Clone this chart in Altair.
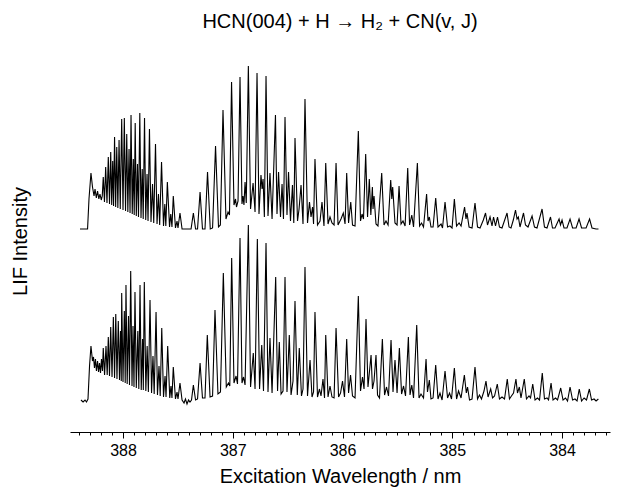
import altair as alt
import pandas as pd

# ---- upper trace (wavelength nm, LIF signal a.u.) ----
upper_head = [(388.392,0),(388.323,0),(388.310,30),(388.292,56),(388.278,42),(388.264,33),(388.255,40),(388.243,31),(388.232,38),(388.220,30),(388.210,35),(388.198,29),(388.189,33),(388.180,52),(388.169,27),(388.158,62),(388.146,26),(388.134,72),(388.123,25),(388.112,77),(388.103,24),(388.094,68),(388.086,23),(388.077,92),(388.067,22),(388.057,82),(388.047,21),(388.036,89),(388.025,20),(388.012,110),(388.000,19),(387.988,111),(387.977,18),(387.966,95),(387.956,17),(387.945,80),(387.936,16),(387.927,114),(387.916,15),(387.906,70),(387.898,14),(387.889,106),(387.879,13),(387.868,65),(387.859,12),(387.847,116),(387.836,11),(387.825,60),(387.816,10),(387.804,111),(387.793,9),(387.781,55),(387.772,8),(387.759,100),(387.745,7),(387.731,45),(387.720,6),(387.704,85),(387.690,5),(387.677,35),(387.666,4),(387.649,67),(387.631,3),(387.619,25),(387.610,3),(387.596,47),(387.576,2),(387.565,15),(387.554,2),(387.542,33),(387.522,1),(387.508,8),(387.499,1),(387.481,16),(387.462,0)]
upper_mid = [(387.399,0),(387.380,0),(387.359,16),(387.339,0),(387.321,0),(387.298,37),(387.276,0),(387.253,0),(387.230,57),(387.205,0),(387.184,1),(387.157,83),(387.130,2),(387.113,4),(387.089,119),(387.062,10),(387.043,17),(387.030,14),(387.011,147),(386.989,24),(386.975,30),(386.966,22),(386.952,28),(386.934,152),(386.916,25),(386.907,33),(386.898,24),(386.888,47),(386.877,26),(386.858,163),(386.838,20),(386.815,46),(386.797,17),(386.779,156),(386.761,15),(386.743,54),(386.733,40),(386.724,50),(386.712,12),(386.697,153),(386.679,13),(386.661,56),(386.642,10),(386.611,114),(386.597,15),(386.583,57),(386.565,12),(386.551,45),(386.538,10),(386.524,112),(386.506,14),(386.492,57),(386.474,8),(386.456,44),(386.444,6),(386.433,91),(386.410,8),(386.396,20),(386.378,44),(386.360,5),(386.342,130),(386.319,6),(386.301,27),(386.287,12),(386.273,22),(386.264,5),(386.251,70),(386.228,4),(386.205,8),(386.187,27),(386.169,3),(386.153,66),(386.132,5),(386.114,12),(386.096,6),(386.077,4),(386.059,66),(386.041,4),(386.014,10)]
upper_tail = [(385.993,16),(385.977,5),(385.962,56),(385.945,6),(385.925,27),(385.909,4),(385.886,3),(385.856,98),(385.836,8),(385.822,15),(385.809,10),(385.789,75),(385.772,12),(385.756,50),(385.742,14),(385.728,42),(385.722,20),(385.713,33),(385.695,5),(385.677,3),(385.643,56),(385.622,4),(385.604,8),(385.585,4),(385.561,49),(385.551,30),(385.543,42),(385.522,6),(385.503,4),(385.485,43),(385.467,5),(385.449,8),(385.430,3),(385.406,61),(385.389,4),(385.369,14),(385.353,2),(385.318,66),(385.298,3),(385.280,6),(385.262,2),(385.234,35),(385.221,8),(385.209,12),(385.194,2),(385.175,2),(385.151,31),(385.130,2),(385.102,5),(385.089,1),(385.066,27),(385.043,2),(385.021,3),(385.002,1),(384.981,30),(384.961,3),(384.938,6),(384.920,3),(384.888,22),(384.875,10),(384.866,16),(384.847,2),(384.820,1),(384.793,26),(384.770,2),(384.747,1),(384.717,9),(384.697,16),(384.679,4),(384.656,12),(384.638,3),(384.624,12),(384.606,3),(384.588,12),(384.570,2),(384.547,1),(384.501,16),(384.483,2),(384.465,1),(384.444,9),(384.424,19),(384.410,10),(384.398,12),(384.383,2),(384.351,16),(384.333,4),(384.310,2),(384.273,13),(384.251,2),(384.228,1),(384.182,20),(384.160,2),(384.137,1),(384.105,12),(384.087,1),(384.064,1),(384.027,10),(384.014,4),(384.000,9),(383.982,1),(383.955,1),(383.927,10),(383.904,1),(383.872,1),(383.845,10),(383.822,1),(383.781,1),(383.749,10),(383.727,1),(383.690,0),(383.668,0)]

# ---- lower trace ----
lower_head = [(388.383,1),(388.364,-1),(388.346,1),(388.333,-1),(388.319,2),(388.305,35),(388.292,55),(388.278,40),(388.269,44),(388.260,33),(388.251,42),(388.242,30),(388.232,40),(388.223,29),(388.214,38),(388.205,28),(388.196,42),(388.187,30),(388.180,53),(388.168,26),(388.155,55),(388.144,26),(388.134,64),(388.123,25),(388.112,74),(388.100,24),(388.088,84),(388.077,23),(388.066,87),(388.055,22),(388.043,80),(388.032,21),(388.023,70),(388.016,20),(388.012,108),(388.000,19),(387.988,90),(387.980,18),(387.973,116),(387.962,17),(387.950,85),(387.941,16),(387.930,130),(387.918,15),(387.909,75),(387.900,14),(387.891,109),(387.879,13),(387.865,70),(387.856,12),(387.845,116),(387.834,11),(387.822,62),(387.815,11),(387.806,119),(387.792,10),(387.780,55),(387.769,9),(387.754,101),(387.740,8),(387.727,45),(387.716,7),(387.699,89),(387.686,6),(387.672,35),(387.661,5),(387.647,73),(387.631,4),(387.617,25),(387.608,4),(387.593,55),(387.574,3),(387.563,15),(387.554,3),(387.542,34),(387.522,2),(387.508,9),(387.499,2),(387.481,18),(387.462,1),(387.444,-2),(387.431,2),(387.417,-3),(387.403,1),(387.390,-1),(387.376,1)]
lower_mid = [(387.359,16),(387.339,1),(387.321,2),(387.298,38),(387.276,3),(387.253,3),(387.232,66),(387.207,4),(387.184,5),(387.162,91),(387.135,7),(387.112,9),(387.086,128),(387.059,14),(387.039,18),(387.027,15),(387.010,143),(386.989,18),(386.970,25),(386.957,17),(386.934,163),(386.916,18),(386.902,24),(386.888,16),(386.858,176),(386.838,14),(386.813,48),(386.797,12),(386.776,162),(386.756,12),(386.736,56),(386.720,10),(386.697,158),(386.679,9),(386.661,63),(386.642,8),(386.609,124),(386.592,10),(386.576,59),(386.560,7),(386.542,10),(386.524,124),(386.506,9),(386.485,66),(386.469,6),(386.451,20),(386.433,100),(386.412,6),(386.394,53),(386.374,5),(386.360,12),(386.342,134),(386.319,5),(386.296,41),(386.278,4),(386.264,9),(386.251,89),(386.228,4),(386.210,12),(386.196,5),(386.178,22),(386.164,3),(386.153,66),(386.132,4),(386.114,15),(386.096,4),(386.077,3),(386.059,73),(386.036,4),(386.018,8)]
lower_tail = [(386.000,20),(385.982,4),(385.962,62),(385.945,8),(385.927,26),(385.909,5),(385.886,3),(385.856,105),(385.836,10),(385.818,24),(385.804,12),(385.786,82),(385.768,14),(385.754,30),(385.740,46),(385.727,12),(385.713,20),(385.695,46),(385.681,6),(385.663,3),(385.637,62),(385.617,6),(385.599,14),(385.581,5),(385.558,61),(385.540,9),(385.522,41),(385.503,8),(385.482,53),(385.462,7),(385.444,15),(385.426,5),(385.400,64),(385.385,6),(385.369,16),(385.353,3),(385.324,76),(385.303,3),(385.285,7),(385.262,3),(385.239,42),(385.226,9),(385.209,21),(385.194,2),(385.175,3),(385.151,36),(385.130,2),(385.112,8),(385.093,1),(385.066,30),(385.043,3),(385.025,8),(385.007,2),(384.981,33),(384.961,2),(384.943,10),(384.920,3),(384.890,26),(384.872,8),(384.861,14),(384.843,1),(384.820,2),(384.793,34),(384.770,2),(384.752,6),(384.734,2),(384.711,10),(384.693,20),(384.674,4),(384.650,12),(384.633,3),(384.615,5),(384.590,17),(384.570,2),(384.547,4),(384.524,2),(384.499,22),(384.479,2),(384.461,5),(384.442,8),(384.420,22),(384.406,8),(384.389,14),(384.374,3),(384.344,22),(384.324,2),(384.301,5),(384.287,3),(384.267,17),(384.246,1),(384.224,3),(384.205,1),(384.180,28),(384.160,2),(384.137,3),(384.123,1),(384.100,18),(384.082,1),(384.059,3),(384.041,1),(384.012,13),(383.991,1),(383.968,3),(383.950,0),(383.927,14),(383.904,1),(383.882,2),(383.863,0),(383.843,12),(383.822,0),(383.799,3),(383.777,1),(383.751,12),(383.731,1),(383.708,2),(383.690,0),(383.669,2)]

upper_offset = 172          # vertical offset of the upper trace (a.u.)
major_ticks = [384, 385, 386, 387, 388]
minor_ticks = [round(383.6 + 0.1 * k, 1) for k in range(49)]

rows = []
for name, segs, off in [("upper", [upper_head, upper_mid, upper_tail], upper_offset),
                        ("lower", [lower_head, lower_mid, lower_tail], 0)]:
    i = 0
    for seg in segs:
        for nm, v in seg:
            rows.append({"spectrum": name, "nm": nm, "signal": v + off, "i": i})
            i += 1
df = pd.DataFrame(rows)

FONT = "Liberation Sans"
is_major = "abs(datum.value - round(datum.value)) < 0.01"

chart = alt.Chart(df).mark_line(color="black", strokeWidth=1.1, clip=True).encode(
    x=alt.X("nm:Q",
            scale=alt.Scale(domain=[383.563, 388.483], reverse=True, nice=False, zero=False),
            axis=alt.Axis(values=minor_ticks,
                          labelExpr=f"{is_major} ? format(datum.value, 'd') : ''",
                          tickSize={"condition": {"test": is_major, "value": 6}, "value": 3},
                          labelOverlap=False, labelFlush=False, grid=False,
                          title="Excitation Wavelength / nm",
                          titleFontSize=20, titleFontWeight="normal", titlePadding=8,
                          labelFontSize=16, labelPadding=4,
                          domainColor="black", tickColor="black", labelColor="black",
                          titleColor="black", labelFont=FONT, titleFont=FONT)),
    y=alt.Y("signal:Q",
            scale=alt.Scale(domain=[-31, 351], nice=False, zero=False),
            axis=alt.Axis(title="LIF Intensity", labels=False, ticks=False, domain=False,
                          grid=False, titleFontSize=20, titleFontWeight="normal",
                          titleFont=FONT, titleColor="black", titlePadding=40)),
    detail="spectrum:N",
    order="i:Q",
).properties(
    width=540, height=382,
    title=alt.TitleParams(text="HCN(004) + H \u2192 H\u2082 + CN(v, J)", fontSize=20,
                          font=FONT, fontWeight="normal", color="black",
                          anchor="middle", offset=18),
    autosize=alt.AutoSizeParams(type="none"),
    padding={"left": 70, "top": 50, "right": 10, "bottom": 59},
).configure(background="white").configure_view(strokeWidth=0, stroke="transparent")

chart.save("out.html", embed_options={"renderer": "svg", "actions": False})
